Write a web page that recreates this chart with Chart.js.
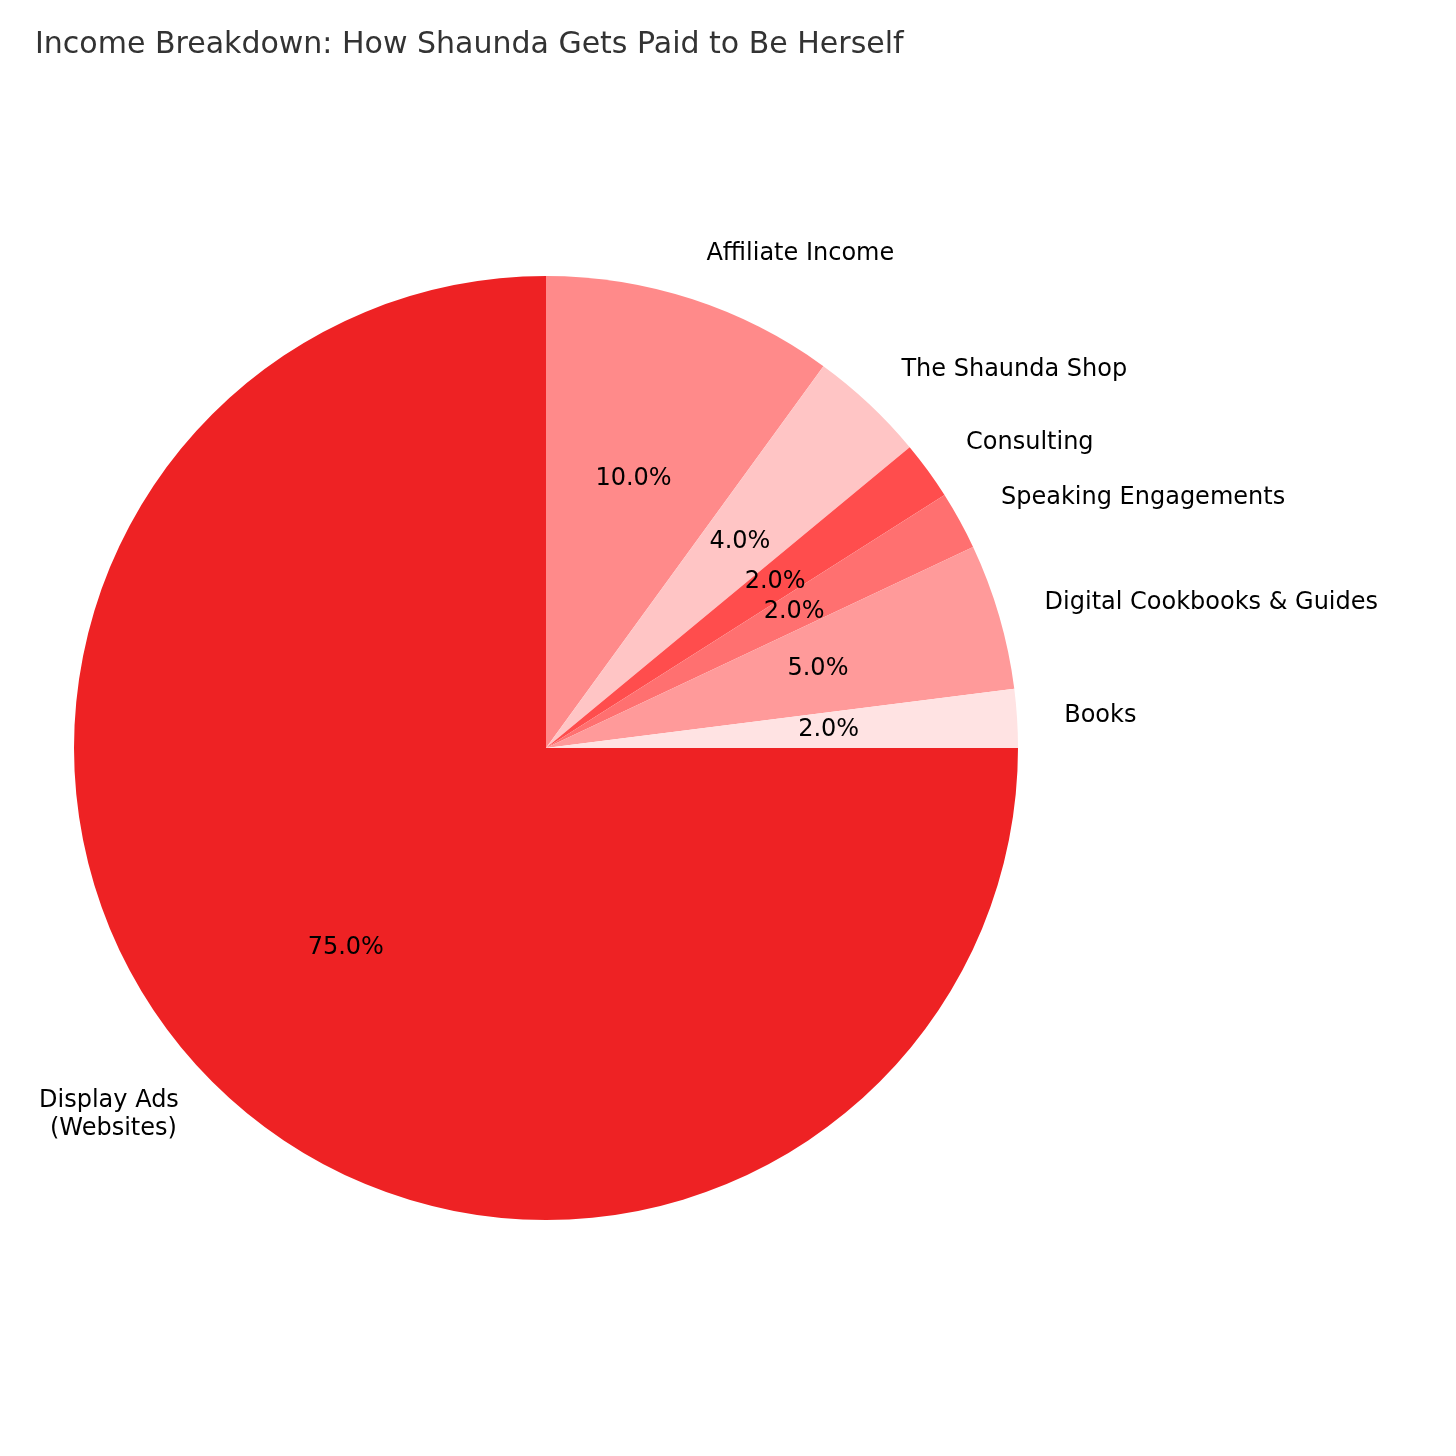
<!DOCTYPE html>
<html>
<head>
<meta charset="utf-8">
<script src="https://cdn.jsdelivr.net/npm/chart.js@4"></script>
<style>
  body { margin: 0; background: #fff; }
  #c { display: block; }
</style>
</head>
<body>
<canvas id="c" width="1456" height="1456" style="width:1456px;height:1456px"></canvas>
<script>
// data, in clockwise order starting at 3 o'clock
var categories = ["Display Ads\n(Websites)", "Affiliate Income", "The Shaunda Shop", "Consulting",
                  "Speaking Engagements", "Digital Cookbooks & Guides", "Books"];
var shares = [75, 10, 4, 2, 2, 5, 2];
var colors = ["#EE2224", "#FF8A8A", "#FFC5C5", "#FF4D4D", "#FF7070", "#FF9A9A", "#FFE3E3"];
var chartTitle = "Income Breakdown: How Shaunda Gets Paid to Be Herself";

var labelPlugin = {
  id: 'pieLabels',
  afterDraw: function(chart) {
    var ctx = chart.ctx;
    ctx.save();
    ctx.fillStyle = '#333';
    ctx.font = '30px "DejaVu Sans"';
    ctx.textAlign = 'left';
    ctx.textBaseline = 'middle';
    ctx.fillText(chartTitle, 35, 45);

    var total = shares.reduce(function(a, b) { return a + b; }, 0);
    chart.getDatasetMeta(0).data.forEach(function(arc, i) {
      var mid = (arc.startAngle + arc.endAngle) / 2;
      var r = arc.outerRadius;
      ctx.font = '24px "DejaVu Sans"';
      ctx.fillStyle = '#000';
      // percentage
      ctx.textAlign = 'center';
      ctx.fillText((shares[i] / total * 100).toFixed(1) + '%',
        arc.x + Math.cos(mid) * r * 0.6, arc.y + Math.sin(mid) * r * 0.6);
      // category label
      var lx = arc.x + Math.cos(mid) * r * 1.1;
      var ly = arc.y + Math.sin(mid) * r * 1.1;
      ctx.textAlign = Math.cos(mid) >= 0 ? 'left' : 'right';
      var lines = categories[i].split('\n');
      var lh = 28;
      lines.forEach(function(t, k) {
        var tx = lx;
        if (lines.length > 1 && k > 0) tx = lx - 2;
        ctx.fillText(t, tx, ly + (k - (lines.length - 1) / 2) * lh);
      });
    });
    ctx.restore();
  }
};

new Chart(document.getElementById('c'), {
  type: 'pie',
  data: {
    labels: categories,
    datasets: [{ data: shares, backgroundColor: colors, borderWidth: 0 }]
  },
  options: {
    responsive: false,
    animation: false,
    rotation: 90,
    layout: { padding: { left: 74, right: 438, top: 276, bottom: 236 } },
    plugins: { legend: { display: false }, tooltip: { enabled: false } }
  },
  plugins: [labelPlugin]
});
</script>
</body>
</html>
